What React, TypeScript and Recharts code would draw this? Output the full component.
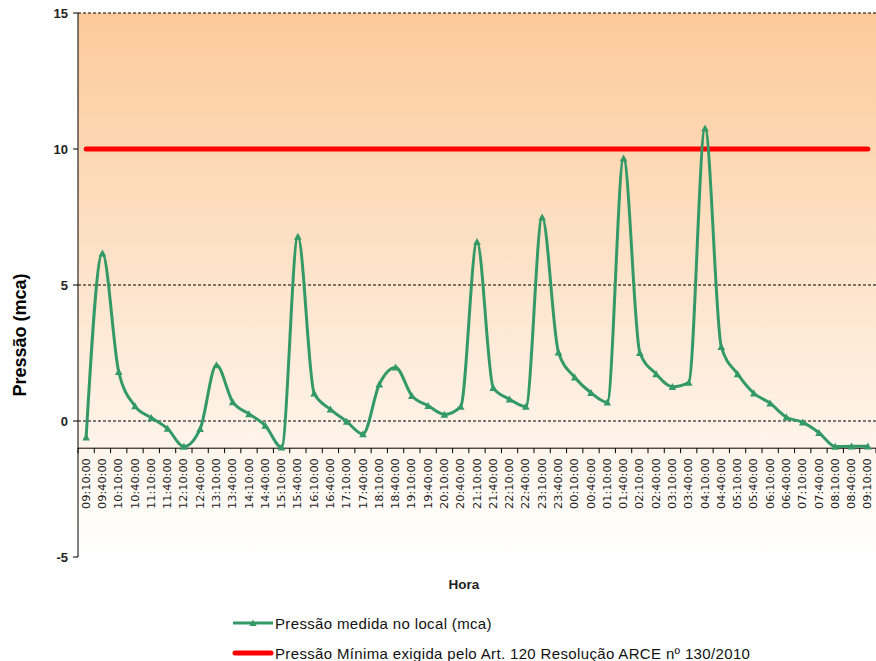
import React from 'react';
import { LineChart, Line, XAxis, YAxis, CartesianGrid, ReferenceLine, Legend } from 'recharts';

const TIMES = [
  '09:10:00', '09:40:00', '10:10:00', '10:40:00', '11:10:00', '11:40:00', '12:10:00', '12:40:00',
  '13:10:00', '13:40:00', '14:10:00', '14:40:00', '15:10:00', '15:40:00', '16:10:00', '16:40:00',
  '17:10:00', '17:40:00', '18:10:00', '18:40:00', '19:10:00', '19:40:00', '20:10:00', '20:40:00',
  '21:10:00', '21:40:00', '22:10:00', '22:40:00', '23:10:00', '23:40:00', '00:10:00', '00:40:00',
  '01:10:00', '01:40:00', '02:10:00', '02:40:00', '03:10:00', '03:40:00', '04:10:00', '04:40:00',
  '05:10:00', '05:40:00', '06:10:00', '06:40:00', '07:10:00', '07:40:00', '08:10:00', '08:40:00',
  '09:10:00',
];

const MEASURED = [
  -0.6, 6.17, 1.81, 0.55, 0.12, -0.28, -0.94, -0.29,
  2.06, 0.7, 0.26, -0.17, -0.97, 6.78, 1.02, 0.43,
  -0.02, -0.48, 1.35, 1.97, 0.93, 0.56, 0.24, 0.53,
  6.59, 1.22, 0.8, 0.53, 7.49, 2.53, 1.61, 1.04,
  0.69, 9.66, 2.51, 1.73, 1.26, 1.41, 10.76, 2.73,
  1.73, 1.02, 0.65, 0.14, -0.05, -0.43, -0.94, -0.93,
  -0.93,
];

const MIN_REQUIRED = 10;

const Y_TICKS = [-5, 0, 5, 10, 15];
const GRID_VALUES = [0, 5, 15];
const Y_MIN = -5;
const Y_MAX = 15;
const AXIS_CROSS = -1;

const SERIES_MEASURED = 'Pressão medida no local (mca)';
const SERIES_MIN = 'Pressão Mínima exigida pelo Art. 120 Resolução ARCE nº 130/2010';
const Y_TITLE = 'Pressão (mca)';
const X_TITLE = 'Hora';

const data = TIMES.map((t, i) => ({ time: t, measured: MEASURED[i], minimum: MIN_REQUIRED }));

const W = 876;
const H = 661;
const YAXIS_W = 78;
const XAXIS_H = 20;
const MARGIN = { top: 13, right: 0, bottom: 104 - XAXIS_H, left: 0 };
const PLOT_TOP = MARGIN.top;
const PLOT_H = H - MARGIN.top - 104;
const PLOT_W = W - YAXIS_W;
const STEP = PLOT_W / TIMES.length;
const AXIS_Y = PLOT_TOP + (PLOT_H * (Y_MAX - AXIS_CROSS)) / (Y_MAX - Y_MIN);

const GREEN = '#339966';
const RED = '#ff0000';
const FONT = '"Liberation Sans", Arial, sans-serif';

const XTick = (props: any) => {
  const { x, payload, index } = props;
  const last = index === TIMES.length - 1;
  return (
    <g>
      <line x1={x - STEP / 2} x2={x - STEP / 2} y1={AXIS_Y} y2={AXIS_Y + 5} stroke="#000" />
      {last && <line x1={x + STEP / 2} x2={x + STEP / 2} y1={AXIS_Y} y2={AXIS_Y + 5} stroke="#000" />}
      <text
        transform={`translate(${x},${AXIS_Y + 10}) rotate(-90)`}
        textAnchor="end"
        dominantBaseline="central"
        fontFamily='"DejaVu Sans", Verdana, sans-serif'
        fontSize={11.3}
        fill="#1a1a1a"
      >
        {payload.value}
      </text>
    </g>
  );
};

const Triangle = (props: any) => {
  const { cx, cy } = props;
  if (cx == null || cy == null) return null;
  return <polygon points={`${cx - 3.8},${cy + 3.2} ${cx + 3.8},${cy + 3.2} ${cx},${cy - 3.8}`} fill={GREEN} />;
};

const YTitle = () => (
  <text
    transform={`translate(26,335) rotate(-90)`}
    textAnchor="middle"
    fontFamily={FONT}
    fontWeight="bold"
    fontSize={18}
    fill="#000"
  >
    {Y_TITLE}
  </text>
);

const XTitle = () => (
  <text x={464} y={589} textAnchor="middle" fontFamily={FONT} fontWeight="bold" fontSize={13.5} fill="#222">
    {X_TITLE}
  </text>
);

const LegendContent = () => (
  <div style={{ fontFamily: FONT, fontSize: 15, letterSpacing: '0.35px', color: '#111', whiteSpace: 'nowrap' }}>
    <div style={{ display: 'flex', alignItems: 'center', height: 30 }}>
      <svg width={43} height={10} style={{ display: 'block' }}>
        <line x1={1} x2={41} y1={5} y2={5} stroke={GREEN} strokeWidth={2.8} />
        <polygon points="17.5,8 24.5,8 21,1.5" fill={GREEN} />
      </svg>
      <span>{SERIES_MEASURED}</span>
    </div>
    <div style={{ display: 'flex', alignItems: 'center', height: 30 }}>
      <svg width={43} height={10} style={{ display: 'block' }}>
        <line x1={3} x2={39} y1={5} y2={5} stroke={RED} strokeWidth={5} strokeLinecap="round" />
      </svg>
      <span>{SERIES_MIN}</span>
    </div>
  </div>
);

export default function App() {
  return (
    <div style={{ position: 'absolute', left: 0, top: 0, width: W, height: H, background: '#fff' }}>
      <LineChart width={W} height={H} data={data} margin={MARGIN}>
        <defs>
          <linearGradient id="bgGrad" x1="0" y1="0" x2="0" y2="1">
            <stop offset="0%" stopColor="#fcca9a" />
            <stop offset="100%" stopColor="#ffffff" />
          </linearGradient>
        </defs>
        <CartesianGrid
          vertical={false}
          horizontalValues={GRID_VALUES}
          stroke="#000"
          strokeDasharray="3 2"
          fill="url(#bgGrad)"
          fillOpacity={1}
        />
        <XAxis
          dataKey="time"
          type="category"
          interval={0}
          height={XAXIS_H}
          axisLine={false}
          tickLine={false}
          padding={{ left: STEP / 2, right: STEP / 2 }}
          tick={<XTick />}
          label={<XTitle />}
        />
        <YAxis
          type="number"
          domain={[Y_MIN, Y_MAX]}
          ticks={Y_TICKS}
          interval={0}
          width={YAXIS_W}
          axisLine={{ stroke: '#000', strokeWidth: 1 }}
          tickLine={{ stroke: '#000' }}
          tickSize={5}
          tickMargin={5}
          tick={{ fill: '#222', fontSize: 13, fontWeight: 'bold', fontFamily: FONT }}
          label={<YTitle />}
        />
        <ReferenceLine y={AXIS_CROSS} stroke="#000" strokeWidth={1} />
        <Line
          dataKey="minimum"
          name={SERIES_MIN}
          stroke={RED}
          strokeWidth={5}
          strokeLinecap="round"
          dot={false}
          activeDot={false}
          isAnimationActive={false}
        />
        <Line
          dataKey="measured"
          name={SERIES_MEASURED}
          type="monotone"
          stroke={GREEN}
          strokeWidth={3}
          dot={<Triangle />}
          activeDot={false}
          isAnimationActive={false}
        />
        <Legend
          layout="vertical"
          align="center"
          verticalAlign="middle"
          wrapperStyle={{ top: 608, left: 232, width: 620 }}
          content={<LegendContent />}
        />
      </LineChart>
    </div>
  );
}
